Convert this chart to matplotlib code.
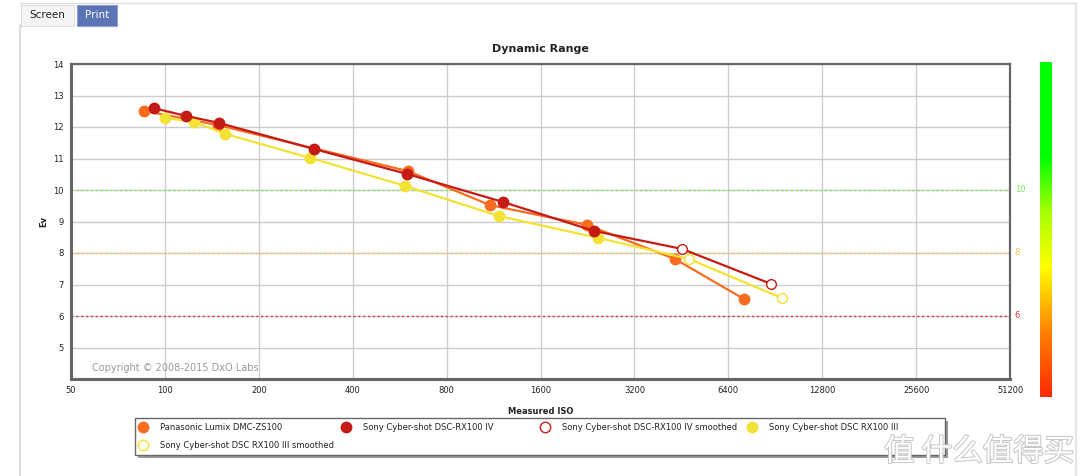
import numpy as np
import matplotlib
matplotlib.use("Agg")
import matplotlib.pyplot as plt
import matplotlib.patheffects as pe
from matplotlib.colors import LinearSegmentedColormap
from matplotlib.lines import Line2D
from matplotlib.patches import Rectangle

plt.rcParams["font.family"] = ["DejaVu Sans", "Noto Sans CJK SC"]

# ================= DATA =================
iso_ticks = [50, 100, 200, 400, 800, 1600, 3200, 6400, 12800, 25600, 51200]
ev_ticks = [5, 6, 7, 8, 9, 10, 11, 12, 13, 14]

pana_iso = [86, 148, 601, 1102, 2255, 4315, 7186]
pana_ev = [12.51, 12.06, 10.60, 9.52, 8.89, 7.81, 6.54]

rx4_iso = [92, 117, 149, 301, 597, 1213, 2375]
rx4_ev = [12.60, 12.35, 12.13, 11.30, 10.51, 9.62, 8.70]
rx4s_iso = [4547, 8775]
rx4s_ev = [8.13, 7.02]

rx3_iso = [100, 124, 156, 292, 589, 1178, 2448]
rx3_ev = [12.29, 12.16, 11.78, 11.02, 10.13, 9.17, 8.48]
rx3s_iso = [4790, 9505]
rx3s_ev = [7.81, 6.57]

ref_levels = [10, 8, 6]
ref_colors = ["#7CE85A", "#F7C548", "#D9333F"]

legend_labels = ["Panasonic Lumix DMC-ZS100", "Sony Cyber-shot DSC-RX100 IV",
                 "Sony Cyber-shot DSC-RX100 IV smoothed", "Sony Cyber-shot DSC RX100 III",
                 "Sony Cyber-shot DSC RX100 III smoothed"]
# =========================================

W, H = 1080, 476
fig = plt.figure(figsize=(W / 100, H / 100), dpi=100)


def box(x0, y0, x1, y1):
    return [x0 / W, 1 - y1 / H, (x1 - x0) / W, (y1 - y0) / H]


def fx(x):
    return x / W


def fy(y):
    return 1 - y / H


# page decoration
fig.add_artist(Line2D([fx(20), fx(1076)], [fy(3), fy(3)], color="#dddddd", lw=1))
fig.add_artist(Line2D([fx(20), fx(20)], [0, fy(25)], color="#dddddd", lw=1.5))
fig.add_artist(Line2D([fx(1076), fx(1076)], [0, fy(3)], color="#e6e6e6", lw=1.5))
fig.add_artist(Rectangle((fx(21), fy(26)), 53 / W, 21 / H, facecolor="#f4f4f4",
                         edgecolor="#dddddd", lw=0.8))
fig.text(fx(47), fy(15), "Screen", ha="center", va="center", fontsize=7.5, color="#222222")
fig.add_artist(Rectangle((fx(77), fy(26)), 40 / W, 21 / H, facecolor="#5b74b6",
                         edgecolor="#8fa0cf", lw=0.8))
fig.text(fx(97), fy(15), "Print", ha="center", va="center", fontsize=7.5, color="white")

ax = fig.add_axes(box(71, 64, 1010, 379))
ax.set_xscale("log", base=2)
ax.set_xlim(50, 51200)
ax.set_ylim(4, 14)
ax.set_xticks(iso_ticks)
ax.set_xticklabels([str(v) for v in iso_ticks])
ax.set_yticks([4] + ev_ticks)
ax.set_yticklabels([""] + [str(v) for v in ev_ticks])
ax.xaxis.set_minor_locator(plt.NullLocator())
ax.tick_params(length=0, labelsize=6, colors="#222222", pad=5)
ax.grid(True, color="#cccccc", lw=1)
ax.set_axisbelow(True)
for s in ax.spines.values():
    s.set_color("#666666")
    s.set_linewidth(1.6)
ax.spines["left"].set_linewidth(2.2)
ax.spines["bottom"].set_linewidth(2.2)

for lvl, c in zip(ref_levels, ref_colors):
    ax.axhline(lvl, color=c, lw=1, ls=(0, (1.5, 2)), zorder=1.5)
    ax.text(1.005, (lvl - 4) / 10, str(lvl), transform=ax.transAxes, color=c,
            fontsize=6, va="center", ha="left")

ms = 7.5
c_pana, c_rx4, c_rx3 = "#F96B1E", "#C41C14", "#F3E234"

ax.plot(pana_iso, pana_ev, color=c_pana, lw=1.6, marker="o", ms=ms, zorder=3)
ax.plot(rx3_iso + rx3s_iso, rx3_ev + rx3s_ev, color=c_rx3, lw=1.6, zorder=3)
ax.plot(rx3_iso, rx3_ev, color=c_rx3, lw=0, marker="o", ms=ms, zorder=3)
ax.plot(rx3s_iso, rx3s_ev, color=c_rx3, lw=0, marker="o", ms=ms - 0.5,
        mfc="white", mew=1, zorder=3)
ax.plot(rx4_iso + rx4s_iso, rx4_ev + rx4s_ev, color=c_rx4, lw=1.6, zorder=4)
ax.plot(rx4_iso, rx4_ev, color=c_rx4, lw=0, marker="o", ms=ms, zorder=4)
ax.plot(rx4s_iso, rx4s_ev, color=c_rx4, lw=0, marker="o", ms=ms - 0.5,
        mfc="white", mew=1, zorder=4)

ax.text(0.022, 0.02, "Copyright \u00a9 2008-2015 DxO Labs", transform=ax.transAxes,
        fontsize=7, color="#999999", ha="left", va="bottom")
ax.set_title("Dynamic Range", fontsize=8, fontweight="bold", color="#222222", pad=9)
ax.set_xlabel("Measured ISO", fontsize=6, fontweight="bold", color="#222222", labelpad=9)
ax.set_ylabel("Ev", fontsize=6, fontweight="bold", color="#222222", labelpad=4)

# legend, drawn by hand to keep the fixed column layout
fig.add_artist(Rectangle((fx(138), fy(458)), 810 / W, 37 / H, facecolor="#999999",
                         edgecolor="none"))
fig.add_artist(Rectangle((fx(135), fy(455)), 810 / W, 37 / H, facecolor="white",
                         edgecolor="#666666", lw=1))
leg_colors = [c_pana, c_rx4, c_rx4, c_rx3, c_rx3]
leg_hollow = [False, False, True, False, True]
leg_pos = [(143, 427), (346, 427), (545, 427), (752, 427), (143, 445)]
for lab, col, hol, (px, py) in zip(legend_labels, leg_colors, leg_hollow, leg_pos):
    fig.add_artist(Line2D([fx(px)], [fy(py)], lw=0, marker="o", ms=ms, color=col,
                          mfc="white" if hol else col, mew=1))
    fig.text(fx(px + 17), fy(py), lab, fontsize=6, color="#222222", ha="left", va="center")

# color scale bar
cax = fig.add_axes(box(1040, 62, 1052, 397))
cmap = LinearSegmentedColormap.from_list(
    "dr", [(0, "#ff2a00"), (0.18, "#ff7a00"), (0.39, "#ffff00"), (0.55, "#a8ff00"),
           (0.72, "#00ff00"), (1, "#00ff00")])
grad = np.linspace(0, 1, 256).reshape(-1, 1)
cax.imshow(grad, aspect="auto", cmap=cmap, origin="lower")
cax.set_axis_off()

# watermark
fig.text(fx(1074), fy(452), "\u503c \u4ec0\u4e48\u503c\u5f97\u4e70", ha="right", va="center",
         fontsize=22, color="white", family=["Noto Sans CJK SC"],
         path_effects=[pe.withStroke(linewidth=1.5, foreground="#c8c8c8")])

fig.savefig("out.png", dpi=100)
